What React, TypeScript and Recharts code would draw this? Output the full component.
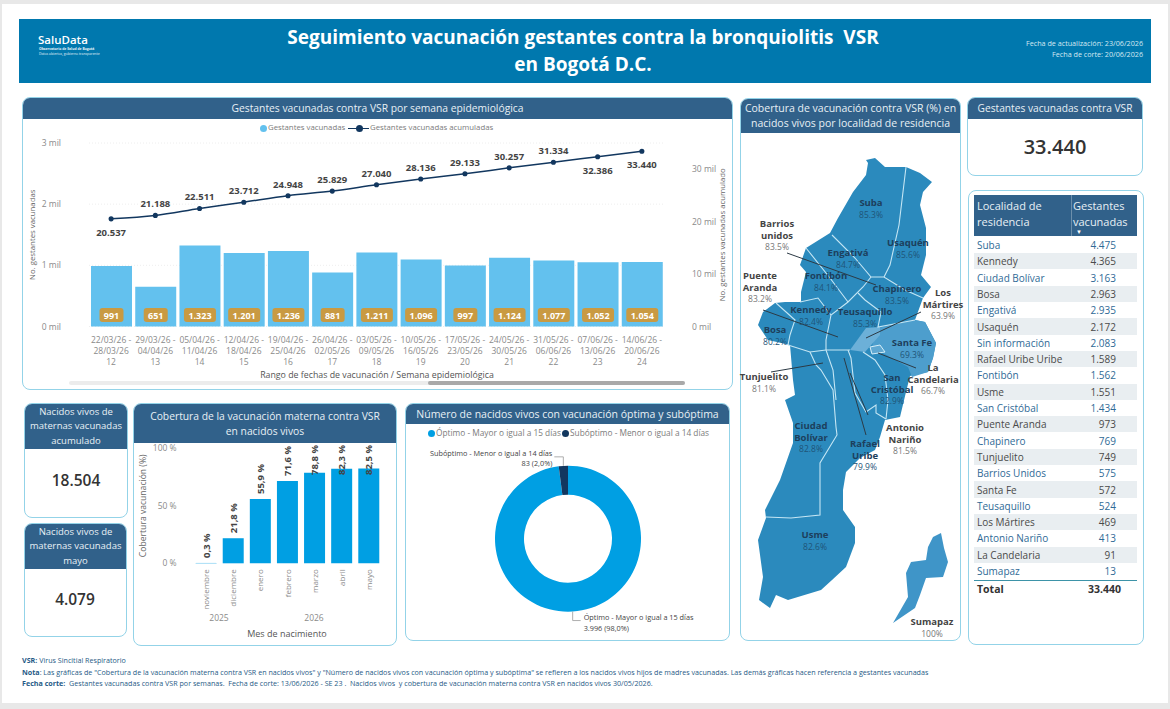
import React from "react";
import { Bar, BarChart, CartesianGrid, ComposedChart, LabelList, Line, Pie, PieChart, Cell, XAxis, YAxis } from "recharts";

const FONT = '"Open Sans", sans-serif';
const NAVY = "#31618a";
const BORDER = "#93d3e8";

const weekStart = ["22/03/26", "29/03/26", "05/04/26", "12/04/26", "19/04/26", "26/04/26", "03/05/26", "10/05/26", "17/05/26", "24/05/26", "31/05/26", "07/06/26", "14/06/26"];
const weekEnd = ["28/03/26", "04/04/26", "11/04/26", "18/04/26", "25/04/26", "02/05/26", "09/05/26", "16/05/26", "23/05/26", "30/05/26", "06/06/26", "13/06/26", "20/06/26"];
const weekNum = ["12", "13", "14", "15", "16", "17", "18", "19", "20", "21", "22", "23", "24"];
const weeklyVaccinated = [991, 651, 1323, 1201, 1236, 881, 1211, 1096, 997, 1124, 1077, 1052, 1054];
const cumulativeVaccinated = [20537, 21188, 22511, 23712, 24948, 25829, 27040, 28136, 29133, 30257, 31334, 32386, 33440];

const birthMonths = ["noviembre", "diciembre", "enero", "febrero", "marzo", "abril", "mayo"];
const birthCoverage = [0.3, 21.8, 55.9, 71.6, 78.8, 82.3, 82.5];

const timingNames = ["Óptimo - Mayor o igual a 15 días", "Subóptimo - Menor o igual a 14 días"];
const timingValues = [3996, 83];
const timingColors = ["#009fe3", "#12375f"];

const tableNames = ["Suba", "Kennedy", "Ciudad Bolívar", "Bosa", "Engativá", "Usaquén", "Sin información", "Rafael Uribe Uribe", "Fontibón", "Usme", "San Cristóbal", "Puente Aranda", "Chapinero", "Tunjuelito", "Barrios Unidos", "Santa Fe", "Teusaquillo", "Los Mártires", "Antonio Nariño", "La Candelaria", "Sumapaz"];
const tableValues = [4475, 4365, 3163, 2963, 2935, 2172, 2083, 1589, 1562, 1551, 1434, 973, 769, 749, 575, 572, 524, 469, 413, 91, 13];

const mapNames = ["Suba", "Usaquén", "Engativá", "Fontibón", "Chapinero", "Kennedy", "Teusaquillo", "Bosa", "Santa Fe", "Barrios\nunidos", "Puente\nAranda", "Los\nMártires", "La\nCandelaria", "Tunjuelito", "San\nCristóbal", "Antonio\nNariño", "Rafael\nUribe", "Ciudad\nBolívar", "Usme", "Sumapaz"];
const mapCoverage = ["85.3%", "85.6%", "84.7%", "84.1%", "83.5%", "82.4%", "85.3%", "80.2%", "69.3%", "83.5%", "83.2%", "63.9%", "66.7%", "81.1%", "82.9%", "81.5%", "79.9%", "82.8%", "82.6%", "100%"];

// where each map label sits, same order as mapNames (page px)
const mapLabelAt = [[871, 203], [908, 243], [848, 253], [826, 276], [897, 289], [811, 310], [865, 312], [775, 330], [912, 343], [777, 224], [760, 276], [943, 293], [933, 368], [764, 377], [892, 378], [905, 428], [865, 444], [811, 426], [815, 535], [932, 622]];
const outsideLabels = ["Barrios\nunidos", "Puente\nAranda", "Los\nMártires", "La\nCandelaria", "Tunjuelito", "Antonio\nNariño", "Sumapaz"];

const bogotaOutline = "866,160 875,158 885,167 906,167 920,173 932,182 923,192 920,205 926,228 926,255 921,275 931,287 923,298 915,320 925,322 936,343 933,358 928,372 910,376 906,392 900,417 885,420 880,437 875,450 860,458 846,472 843,490 843,510 855,527 855,543 846,567 832,580 821,590 788,600 776,595 770,608 759,600 763,577 758,540 766,518 765,510 780,480 793,443 793,423 785,400 795,395 793,380 790,345 768,340 758,325 763,312 775,303 785,302 801,302 801,292 806,272 800,265 806,248 830,233 838,218 853,192 866,175 868,163";
const sumapazShape = "941,533 944,548 948,562 943,577 926,578 920,595 915,608 893,623 908,597 906,573 911,562 926,560 928,547 933,537";
const santaFeShape = "878,328 915,320 925,322 936,343 933,358 928,372 912,377 908,367 881,352 870,352";
const martiresShape = "866,328 880,327 880,335 865,352 850,350";
const candelariaShape = "870,347 880,345 885,352 872,354";
const mapBoundaries = [
  "906,167 899,225 890,265 884,277",
  "832,235 855,258 871,277 884,277 905,290 923,298",
  "806,248 830,278 848,302",
  "871,277 863,287 848,302 831,315 826,340 826,350",
  "800,302 818,298 831,315",
  "858,293 865,300 881,312 878,327 915,320",
  "776,303 795,320 790,335 788,345",
  "788,345 810,352 826,350 850,350",
  "810,352 816,365 821,370 833,390 836,427 837,435 820,463 820,515 791,518 766,517",
  "826,350 833,370 835,390 836,400",
  "848,350 851,358 855,393 866,412 876,405 876,413 886,419",
  "863,352 875,360 885,375 888,400 886,419",
];
const leaderLines = ["787,253 876,285", "763,310 838,337", "921,312 866,338", "878,353 916,368", "771,372 823,363", "844,358 866,435", "850,373 868,415"];

const weekRows = weekStart.map((start, i) => ({ week: i, start, end: weekEnd[i], num: weekNum[i], vaccinated: weeklyVaccinated[i], cumulative: cumulativeVaccinated[i] }));
const coverageRows = birthMonths.map((month, i) => ({ month, coverage: birthCoverage[i] }));
const timingRows = timingNames.map((name, i) => ({ name, value: timingValues[i] }));

const fmt = (n: number) => n.toLocaleString("de-DE");

function Txt({ x, y, size = 10, color = "#444", bold, weight, anchor = "center", children }: any) {
  const shift = anchor === "center" ? "-50%" : anchor === "end" ? "-100%" : "0";
  return (
    <div
      style={{
        position: "absolute",
        left: x,
        top: y,
        transform: `translate(${shift}, -50%)`,
        whiteSpace: "pre",
        fontSize: size,
        lineHeight: 1,
        color,
        fontWeight: weight || (bold ? 700 : 400),
      }}
    >
      {children}
    </div>
  );
}

function Panel({ x, y, w, h, headerH = 0, title = [] as string[], titleSize = 10.3 }: any) {
  return (
    <div
      style={{
        position: "absolute",
        left: x,
        top: y,
        width: w,
        height: h,
        boxSizing: "border-box",
        border: `1.5px solid ${BORDER}`,
        borderRadius: 8,
        overflow: "hidden",
        background: "#fff",
      }}
    >
      {headerH > 0 && (
        <div
          style={{
            height: headerH,
            background: NAVY,
            color: "#e8f0f5",
            fontSize: titleSize,
            textAlign: "center",
            display: "flex",
            flexDirection: "column",
            justifyContent: "center",
            lineHeight: `${Math.min(15, (headerH - 2) / title.length)}px`,
          }}
        >
          {title.map((t: string) => (
            <div key={t}>{t}</div>
          ))}
        </div>
      )}
    </div>
  );
}

function LegendDot({ x, y, color, label, line, size = 7.8, gap = 5 }: any) {
  return (
    <>
      {line && <div style={{ position: "absolute", left: x - 11, top: y - 0.5, width: 21, height: 1.5, background: color }} />}
      <div style={{ position: "absolute", left: x - 3, top: y - 3, width: 7, height: 7, borderRadius: 4, background: color }} />
      <Txt x={x + gap} y={y} size={size} color="#7b7b7b" anchor="start">{label}</Txt>
    </>
  );
}

function WeekTick({ x, y, payload }: any) {
  const row = weekRows[payload.value];
  return (
    <g fontSize={8.5} fill="#8a8a8a" textAnchor="middle">
      <text x={x} y={y + 8}>{row.start} -</text>
      <text x={x} y={y + 19}>{row.end}</text>
      <text x={x} y={y + 30}>{row.num}</text>
    </g>
  );
}

function BadgeLabel({ x, y, width, height, value }: any) {
  const w = value >= 1000 ? 32 : 24;
  const mid = x + width / 2;
  const bottom = y + height;
  return (
    <g>
      <rect x={mid - w / 2} y={bottom - 18.5} width={w} height={14} rx={3} fill="#c99a42" />
      <text x={mid} y={bottom - 8} textAnchor="middle" fontSize={9} fontWeight={700} fill="#fff">{fmt(value)}</text>
    </g>
  );
}

function CumulativeLabel({ x, y, value, index }: any) {
  const below = index === 0 || index >= 11;
  return (
    <text x={x} y={below ? y + 17 : y - 8} textAnchor="middle" fontSize={9.5} fontWeight={700} fill="#444">
      {fmt(value)}
    </text>
  );
}

function MonthTick({ x, y, payload }: any) {
  return (
    <text transform={`translate(${x + 3}, ${y - 2}) rotate(-90)`} textAnchor="end" fontSize={8} fill="#8a8a8a">
      {payload.value}
    </text>
  );
}

function CoverageLabel({ x, y, width, value }: any) {
  // tall bars: text is pushed down into the bar so it stays under the 100 % line
  const base = Math.max(y - 5, 33);
  return (
    <text transform={`translate(${x + width / 2 + 3.5}, ${base}) rotate(-90)`} fontSize={9.5} fontWeight={700} fill="#444">
      {value.toFixed(1).replace(".", ",")} %
    </text>
  );
}

function TimingLabel({ cx, cy, midAngle, outerRadius, name, value, percent }: any) {
  const rad = (midAngle * Math.PI) / 180;
  const ex = cx + outerRadius * Math.cos(rad);
  const ey = cy - outerRadius * Math.sin(rad);
  const up = ey < cy;
  const elbowY = ey + (up ? -9 : 9);
  const endX = ex + (up ? -9 : 8);
  const text = `${fmt(value)} (${(percent * 100).toFixed(1).replace(".", ",")}%)`;
  return (
    <g fontSize={7.3} fill="#444">
      <polyline points={`${ex},${ey} ${ex},${elbowY} ${endX},${elbowY}`} fill="none" stroke="#999" strokeWidth={0.8} />
      {up ? (
        <>
          <text x={endX - 2} y={elbowY - 1} textAnchor="end">{name}</text>
          <text x={endX - 2} y={elbowY + 9} textAnchor="end">{text}</text>
        </>
      ) : (
        <>
          <text x={endX + 3} y={elbowY - 1}>{name}</text>
          <text x={endX + 3} y={elbowY + 10}>{text}</text>
        </>
      )}
    </g>
  );
}

function BogotaMap() {
  return (
    <svg width={1170} height={709} style={{ position: "absolute", left: 0, top: 0, pointerEvents: "none" }} fontFamily={FONT}>
      <polygon points={bogotaOutline} fill="#2b8abd" />
      <polygon points={santaFeShape} fill="#4d9ecd" />
      <polygon points={martiresShape} fill="#6cb0d8" />
      <polygon points={candelariaShape} fill="#5fa8d2" stroke="#d5eef8" strokeWidth={1} />
      <polygon points={sumapazShape} fill="#3f95c8" />
      {mapBoundaries.map((pts) => (
        <polyline key={pts} points={pts} fill="none" stroke="#c5e6f4" strokeWidth={1.1} />
      ))}
      {leaderLines.map((pts) => (
        <polyline key={pts} points={pts} fill="none" stroke="#2c3a45" strokeWidth={1} />
      ))}
      {mapNames.map((name, i) => {
        const [x, y] = mapLabelAt[i];
        const lines = name.split("\n");
        const outside = outsideLabels.includes(name);
        return (
          <g key={name} textAnchor="middle">
            {lines.map((line, k) => (
              <text key={line} x={x} y={y + 3 + k * 12} fontSize={9.5} fontWeight={700} fill={outside ? "#444" : "#1d3f5c"}>{line}</text>
            ))}
            <text x={x} y={y + 3 + lines.length * 11.5} fontSize={8.5} fill={outside ? "#777" : "#1f5578"}>{mapCoverage[i]}</text>
          </g>
        );
      })}
    </svg>
  );
}

export default function App() {
  return (
    <div style={{ position: "absolute", left: 0, top: 0, width: 1170, height: 709, overflow: "hidden", background: "#e8e8e8", fontFamily: FONT }}>
      <div style={{ position: "absolute", left: 2, top: 4, width: 1166, height: 699, background: "#fff" }} />

      {/* banner */}
      <div style={{ position: "absolute", left: 19, top: 19, width: 1132, height: 64, background: "#0078ae" }} />
      <Txt x={38} y={40} size={11.5} color="#fff" weight={600} anchor="start">SaluData</Txt>
      <Txt x={39} y={49} size={3.4} color="#e8f4fa" bold anchor="start">Observatorio de Salud de Bogotá</Txt>
      <Txt x={39} y={53.5} size={3.4} color="#e8f4fa" anchor="start">Datos abiertos, gobierno transparente</Txt>
      <Txt x={583} y={37} size={19} color="#fff" bold>Seguimiento vacunación gestantes contra la bronquiolitis  VSR</Txt>
      <Txt x={583} y={64} size={19} color="#fff" bold>en Bogotá D.C.</Txt>
      <Txt x={1143} y={44} size={7.2} color="#d5e8f2" anchor="end">Fecha de actualización: 23/06/2026</Txt>
      <Txt x={1143} y={55} size={7.2} color="#d5e8f2" anchor="end">Fecha de corte: 20/06/2026</Txt>

      {/* weekly panel */}
      <Panel x={22} y={97} w={711} h={293} headerH={21} title={["Gestantes vacunadas contra VSR por semana epidemiológica"]} />
      <LegendDot x={263} y={128} color="#63c1ee" label="Gestantes vacunadas" />
      <LegendDot x={359} y={128} color="#12375f" label="Gestantes vacunadas acumuladas" line gap={11} />
      <div style={{ position: "absolute", left: 22, top: 118 }}>
        <ComposedChart width={711} height={272} data={weekRows} margin={{ top: 25, right: 24, bottom: 18.5, left: 22 }}>
          <CartesianGrid vertical={false} stroke="#eeeeee" strokeDasharray="1 2" yAxisId="left" />
          <XAxis dataKey="week" type="category" interval={0} axisLine={false} tickLine={false} height={45} tick={<WeekTick />} />
          <YAxis
            yAxisId="left"
            width={45}
            domain={[0, 3000]}
            ticks={[0, 1000, 2000, 3000]}
            axisLine={false}
            tickLine={false}
            tick={{ fontSize: 8.5, fill: "#8a8a8a", dx: -20 }}
            tickFormatter={(v: number) => `${v / 1000}\u00a0mil`}
            label={{ value: "No. gestantes vacunadas", angle: -90, position: "insideLeft", offset: -12, textAnchor: "middle", style: { fontSize: 7.8, fill: "#666", textAnchor: "middle" } }}
          />
          <YAxis
            yAxisId="right"
            orientation="right"
            width={45}
            domain={[0, 35000]}
            ticks={[0, 10000, 20000, 30000]}
            axisLine={false}
            tickLine={false}
            tick={{ fontSize: 8.5, fill: "#8a8a8a", dx: 20 }}
            tickFormatter={(v: number) => `${v / 1000}\u00a0mil`}
            label={{ value: "No. gestantes vacunadas acumulado", angle: -90, position: "insideRight", offset: -13, textAnchor: "middle", style: { fontSize: 7.8, fill: "#666", textAnchor: "middle" } }}
          />
          <Bar yAxisId="left" dataKey="vaccinated" fill="#63c1ee" barSize={41} isAnimationActive={false}>
            <LabelList dataKey="vaccinated" content={<BadgeLabel />} />
          </Bar>
          <Line yAxisId="right" dataKey="cumulative" type="monotone" stroke="#12375f" strokeWidth={1.5} dot={{ r: 1.8, fill: "#12375f", stroke: "#12375f" }} isAnimationActive={false}>
            <LabelList dataKey="cumulative" content={<CumulativeLabel />} />
          </Line>
        </ComposedChart>
      </div>
      <Txt x={377} y={375} size={8.8} color="#555">Rango de fechas de vacunación / Semana epidemiológica</Txt>
      <div style={{ position: "absolute", left: 69, top: 380.5, width: 616, height: 4, borderRadius: 2, background: "#ececec" }} />
      <div style={{ position: "absolute", left: 428, top: 380.5, width: 257, height: 4, borderRadius: 2, background: "#a9a9a9" }} />

      {/* KPI cards */}
      <Panel x={24} y={403} w={104} h={115} headerH={45} title={["Nacidos vivos de", "maternas vacunadas", "acumulado"]} titleSize={9.5} />
      <Txt x={76} y={481} size={15.5} color="#333" weight={600}>18.504</Txt>
      <Panel x={24} y={523} w={103} h={114} headerH={45} title={["Nacidos vivos de", "maternas vacunadas", "mayo"]} titleSize={9.5} />
      <Txt x={75} y={600} size={15.5} color="#333" weight={600}>4.079</Txt>

      {/* coverage by month */}
      <Panel x={133} y={403} w={264} h={243} headerH={39} title={["Cobertura de la vacunación materna contra VSR", "en nacidos vivos"]} />
      <div style={{ position: "absolute", left: 133, top: 442 }}>
        <BarChart width={264} height={204} data={coverageRows} margin={{ top: 6.3, right: 14.6, bottom: 22.7, left: 19.6 }}>
          <XAxis dataKey="month" interval={0} axisLine={false} tickLine={false} height={60} tick={<MonthTick />} />
          <YAxis
            width={40}
            domain={[0, 100]}
            ticks={[0, 50, 100]}
            axisLine={false}
            tickLine={false}
            tick={{ fontSize: 8.5, fill: "#8a8a8a", dx: -8 }}
            tickFormatter={(v: number) => `${v}\u00a0%`}
            label={{ value: "Cobertura vacunación (%)", angle: -90, position: "insideLeft", offset: -10, textAnchor: "middle", style: { fontSize: 8.6, fill: "#666", textAnchor: "middle" } }}
          />
          <Bar dataKey="coverage" fill="#009fe3" barSize={21} isAnimationActive={false}>
            <LabelList dataKey="coverage" content={<CoverageLabel />} />
          </Bar>
        </BarChart>
      </div>
      <Txt x={219} y={618} size={8.5} color="#8a8a8a">2025</Txt>
      <Txt x={314} y={618} size={8.5} color="#8a8a8a">2026</Txt>
      <Txt x={287} y={633} size={9} color="#555">Mes de nacimiento</Txt>

      {/* optimal / suboptimal donut */}
      <Panel x={405} y={403} w={325} h={238} headerH={20} title={["Número de nacidos vivos con vacunación óptima y subóptima"]} titleSize={10.5} />
      <LegendDot x={431} y={433} color={timingColors[0]} label={timingNames[0]} size={8.3} />
      <LegendDot x={565} y={433} color={timingColors[1]} label={timingNames[1]} size={8.3} />
      <div style={{ position: "absolute", left: 405, top: 423 }}>
        <PieChart width={325} height={218} margin={{ top: 0, right: 0, bottom: 0, left: 0 }}>
          <Pie
            data={timingRows}
            dataKey="value"
            nameKey="name"
            cx={163}
            cy={115.7}
            innerRadius={44}
            outerRadius={73}
            startAngle={90}
            endAngle={-270}
            stroke="none"
            label={TimingLabel}
            labelLine={false}
            isAnimationActive={false}
          >
            {timingRows.map((row, i) => (
              <Cell key={row.name} fill={timingColors[i]} />
            ))}
          </Pie>
        </PieChart>
      </div>

      {/* map */}
      <Panel x={740} y={98} w={221} h={543} headerH={34} title={["Cobertura de vacunación contra VSR (%) en", "nacidos vivos por localidad de residencia"]} titleSize={10.5} />
      <BogotaMap />

      {/* total */}
      <Panel x={967} y={97} w={176} h={79} headerH={21} title={["Gestantes vacunadas contra VSR"]} titleSize={10.2} />
      <Txt x={1055} y={147} size={20} color="#333" weight={600}>33.440</Txt>

      {/* table */}
      <Panel x={968} y={190} w={176} h={455} />
      <div style={{ position: "absolute", left: 974, top: 195, width: 163, height: 41, background: NAVY }} />
      <div style={{ position: "absolute", left: 1071, top: 195, width: 1, height: 41, background: "#6d8fab" }} />
      <Txt x={977} y={205} size={11} color="#e8f0f5" anchor="start">Localidad de</Txt>
      <Txt x={977} y={221} size={11} color="#e8f0f5" anchor="start">residencia</Txt>
      <Txt x={1073} y={205} size={11} color="#e8f0f5" anchor="start">Gestantes</Txt>
      <Txt x={1073} y={221} size={11} color="#e8f0f5" anchor="start">vacunadas</Txt>
      <Txt x={1079} y={232} size={6} color="#fff">▼</Txt>
      {tableNames.map((name, i) => (
        <React.Fragment key={name}>
          {i % 2 === 1 && <div style={{ position: "absolute", left: 974, top: 236.8 + i * 16.3, width: 163, height: 16.3, background: "#e9eef1" }} />}
          <Txt x={977} y={245 + i * 16.3} size={10} color={i % 2 === 0 ? "#2f6a96" : "#4a4a4a"} anchor="start">{name}</Txt>
          <Txt x={1116} y={245 + i * 16.3} size={10} color={i % 2 === 0 ? "#2f6a96" : "#4a4a4a"} anchor="end">{fmt(tableValues[i])}</Txt>
        </React.Fragment>
      ))}
      <div style={{ position: "absolute", left: 974, top: 580, width: 163, height: 1, background: "#3d93a8" }} />
      <Txt x={977} y={589} size={10.5} color="#333" bold anchor="start">Total</Txt>
      <Txt x={1121} y={589} size={10.5} color="#333" bold anchor="end">33.440</Txt>

      {/* footnotes */}
      <Txt x={22} y={661} size={7.15} color="#1f5a86" anchor="start"><b>VSR:</b> Virus Sincitial Respiratorio</Txt>
      <Txt x={22} y={672.5} size={7.15} color="#1f5a86" anchor="start"><b>Nota</b>: Las gráficas de "Cobertura de la vacunación materna contra VSR en nacidos vivos" y "Número de nacidos vivos con vacunación óptima y subóptima" se refieren a los nacidos vivos hijos de madres vacunadas. Las demás gráficas hacen referencia a gestantes vacunadas</Txt>
      <Txt x={22} y={684} size={7.15} color="#1f5a86" anchor="start"><b>Fecha corte:</b>  Gestantes vacunadas contra VSR por semanas.  Fecha de corte: 13/06/2026 - SE 23 .  Nacidos vivos  y cobertura de vacunación materna contra VSR en nacidos vivos 30/05/2026.</Txt>
    </div>
  );
}
